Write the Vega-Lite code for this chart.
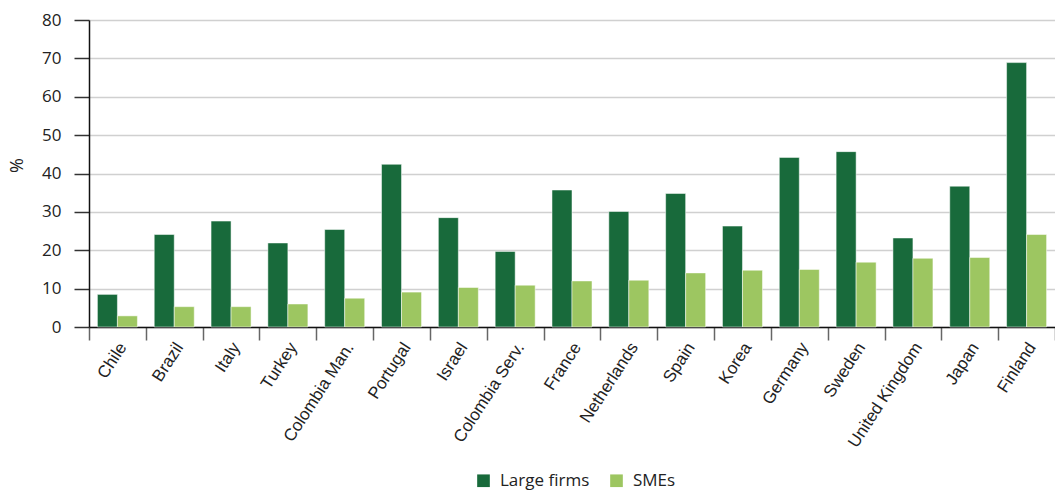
{
  "$schema": "https://vega.github.io/schema/vega-lite/v6.json",
  "autosize": "none",
  "width": 966,
  "height": 307,
  "padding": {"left": 89, "top": 20, "right": 0, "bottom": 164},
  "background": "white",
  "config": {"view": {"stroke": null}},
  "data": {"values": [
    {"country": "Chile", "type": "Large firms", "value": 8.5},
    {"country": "Chile", "type": "SMEs", "value": 2.9},
    {"country": "Brazil", "type": "Large firms", "value": 24.1},
    {"country": "Brazil", "type": "SMEs", "value": 5.3},
    {"country": "Italy", "type": "Large firms", "value": 27.6},
    {"country": "Italy", "type": "SMEs", "value": 5.3},
    {"country": "Turkey", "type": "Large firms", "value": 21.9},
    {"country": "Turkey", "type": "SMEs", "value": 6.0},
    {"country": "Colombia Man.", "type": "Large firms", "value": 25.4},
    {"country": "Colombia Man.", "type": "SMEs", "value": 7.5},
    {"country": "Portugal", "type": "Large firms", "value": 42.4},
    {"country": "Portugal", "type": "SMEs", "value": 9.1},
    {"country": "Israel", "type": "Large firms", "value": 28.5},
    {"country": "Israel", "type": "SMEs", "value": 10.3},
    {"country": "Colombia Serv.", "type": "Large firms", "value": 19.7},
    {"country": "Colombia Serv.", "type": "SMEs", "value": 10.9},
    {"country": "France", "type": "Large firms", "value": 35.7},
    {"country": "France", "type": "SMEs", "value": 12.0},
    {"country": "Netherlands", "type": "Large firms", "value": 30.1},
    {"country": "Netherlands", "type": "SMEs", "value": 12.2},
    {"country": "Spain", "type": "Large firms", "value": 34.8},
    {"country": "Spain", "type": "SMEs", "value": 14.1},
    {"country": "Korea", "type": "Large firms", "value": 26.3},
    {"country": "Korea", "type": "SMEs", "value": 14.8},
    {"country": "Germany", "type": "Large firms", "value": 44.2},
    {"country": "Germany", "type": "SMEs", "value": 15.0},
    {"country": "Sweden", "type": "Large firms", "value": 45.7},
    {"country": "Sweden", "type": "SMEs", "value": 16.9},
    {"country": "United Kingdom", "type": "Large firms", "value": 23.2},
    {"country": "United Kingdom", "type": "SMEs", "value": 17.9},
    {"country": "Japan", "type": "Large firms", "value": 36.7},
    {"country": "Japan", "type": "SMEs", "value": 18.1},
    {"country": "Finland", "type": "Large firms", "value": 68.9},
    {"country": "Finland", "type": "SMEs", "value": 24.1}
  ]},
  "mark": {"type": "bar", "stroke": "white", "strokeOpacity": 0.5, "strokeWidth": 1},
  "encoding": {
    "x": {
      "field": "country", "type": "nominal", "sort": null,
      "scale": {"paddingInner": 0, "paddingOuter": 0},
      "axis": {
        "title": null, "tickBand": "extent", "labelAngle": -57, "labelOffset": 5,
        "labelFont": "Liberation Sans Narrow, Liberation Sans", "labelFontSize": 17, "labelColor": "#222",
        "domainColor": "#111", "domainWidth": 1.5,
        "tickColor": "#666", "tickWidth": 1.5, "tickSize": 13, "labelPadding": 4,
        "grid": false
      }
    },
    "xOffset": {"field": "type", "type": "nominal", "scale": {"paddingOuter": 0.42, "paddingInner": 0}},
    "y": {
      "field": "value", "type": "quantitative",
      "scale": {"domain": [0, 80]},
      "axis": {
        "title": "%", "titleAngle": -90, "titleX": -72, "titleY": 145,
        "titleAlign": "center", "titleBaseline": "middle",
        "titleFont": "Open Sans", "titleFontSize": 18, "titleFontWeight": "normal", "titleColor": "#222",
        "values": [0, 10, 20, 30, 40, 50, 60, 70, 80],
        "labelFont": "Open Sans", "labelFontSize": 17, "labelColor": "#222",
        "tickSize": 15, "tickColor": "#333", "tickWidth": 1.5, "labelPadding": 13,
        "domainColor": "#111", "domainWidth": 1.5,
        "gridColor": "#d0d0d0", "gridWidth": 1.5
      }
    },
    "color": {
      "field": "type", "type": "nominal",
      "scale": {"domain": ["Large firms", "SMEs"], "range": ["#186a3b", "#9dc661"]},
      "legend": {
        "title": null, "orient": "none", "direction": "horizontal",
        "legendX": 386, "legendY": 452,
        "symbolType": "square", "symbolSize": 160, "symbolStrokeWidth": 0,
        "labelFont": "Open Sans", "labelFontSize": 17, "labelColor": "#222",
        "columnPadding": 18, "labelOffset": 8
      }
    }
  }
}
